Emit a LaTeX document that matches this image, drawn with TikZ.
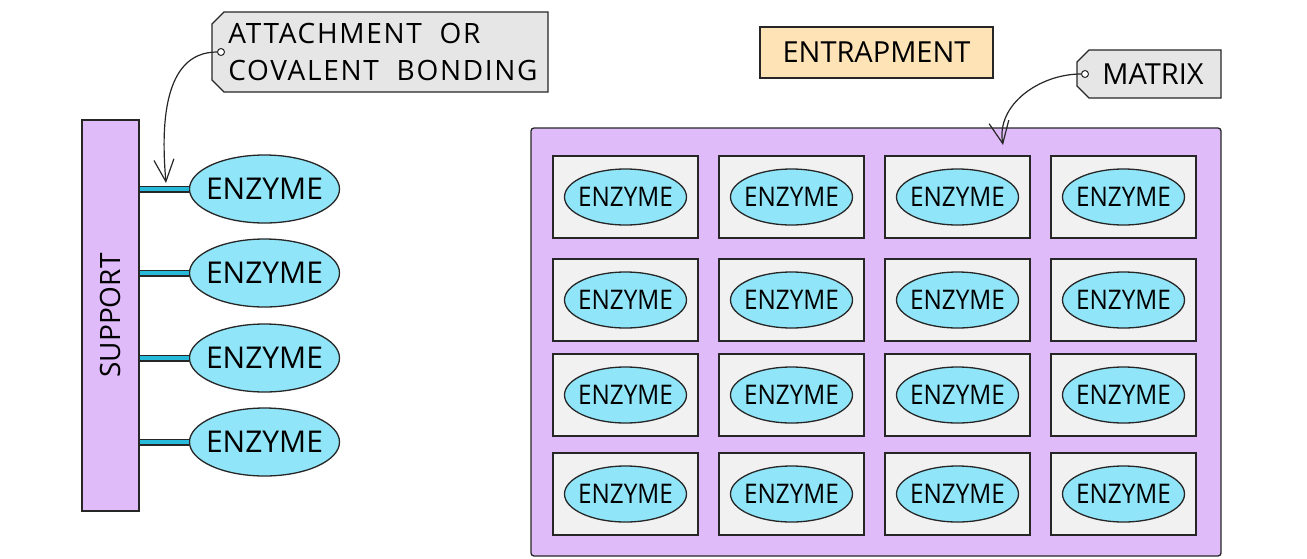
\documentclass[tikz,border=0pt]{standalone}
\usepackage{fontspec}
\setmainfont{Open Sans}
\newfontfamily\cellfont{Open Sans}[FakeStretch=0.9]
\newfontfamily\tagfont{Open Sans}[LetterSpace=6]
\usetikzlibrary{shapes.geometric,shapes.misc,arrows.meta,positioning}
\definecolor{supportpurple}{HTML}{E0BBFA}
\definecolor{enzymecyan}{HTML}{90E5F8}
\definecolor{linkcyan}{HTML}{27B9DA}
\definecolor{tagfill}{HTML}{E6E6E6}
\definecolor{cellfill}{HTML}{F1F1F1}
\definecolor{titlefill}{HTML}{FDE3B6}
\definecolor{inkline}{HTML}{262626}
\tikzstyle{enzyme}=[
  draw=inkline,ellipse,fill=enzymecyan,inner sep=0pt,line width=1.3pt,
  minimum width=150pt,minimum height=68pt,font=\fontsize{30}{36}\selectfont
]
\tikzstyle{cellenzyme}=[
  draw=inkline,ellipse,fill=enzymecyan,inner sep=0pt,line width=1.3pt,
  minimum width=122pt,minimum height=56pt,font=\cellfont\fontsize{27}{32}\selectfont
]
\tikzstyle{cell}=[
  draw=inkline,fill=cellfill,line width=1.2pt,minimum width=145pt,minimum height=82pt
]
\tikzstyle{purplebox}=[
  draw=inkline,fill=supportpurple,line width=1.3pt,inner sep=0pt
]
\tikzstyle{labeltag}=[
  draw=inkline,fill=tagfill,line width=1.3pt,chamfered rectangle,
  chamfered rectangle corners={north west,south west},
  chamfered rectangle xsep=6pt,chamfered rectangle ysep=6pt,inner sep=0pt
]
\tikzstyle{hole}=[
  draw=inkline,circle,fill=white,inner sep=0pt,minimum size=7pt,line width=1pt
]
\tikzstyle{pointer}=[
  line width=1.2pt,draw=inkline,-{Straight Barb[length=22pt,width=20pt]}
]
\tikzstyle{link}=[
  draw=inkline,line width=1.2pt,double=linkcyan,double distance=4.6pt
]
\newcommand{\enz}{\makebox[0pt]{ENZYME}}

\begin{document}
\begin{tikzpicture}[x=1pt,y=-1pt]
  \useasboundingbox (0,0) rectangle (1307,558);

  % immobilised on a support
  \node (support) at (110.5,315.5) [purplebox,rotate=90,minimum width=391pt,
    minimum height=57pt,font=\fontsize{28}{34}\selectfont] {SUPPORT};

  \node (enz1) at (264.5,189) [enzyme] {\enz};
  \node (enz2) at (264.5,273) [enzyme] {\enz};
  \node (enz3) at (264.5,358) [enzyme] {\enz};
  \node (enz4) at (264.5,442) [enzyme] {\enz};

  \foreach \i in {1,...,4}
    \draw [link] (support.south |- enz\i) -- (enz\i.west);

  \node (bonding) at (380,52) [labeltag,minimum width=336pt,minimum height=80pt,
    align=left,font=\tagfont\fontsize{28}{37}\selectfont]
    {\hspace{6pt}ATTACHMENT\ \ OR\\\hspace{6pt}COVALENT\ \ BONDING};
  \node (bondhole) at (221,52) [hole] {};
  \coordinate (bondtip) at (166,183);
  \draw [pointer] (bondhole.west) to[out=180,in=95] (bondtip);

  % entrapment in a matrix
  \node (title) at (876.5,52.5) [purplebox,fill=titlefill,minimum width=233pt,
    minimum height=51pt,font=\fontsize{29}{34}\selectfont] {ENTRAPMENT};

  \node (mtag) at (1149,74) [labeltag,minimum width=144pt,minimum height=48pt,
    font=\fontsize{29}{34}\selectfont] {\hspace{8pt}MATRIX};
  \node (mhole) at (1085,74) [hole] {};

  \node (matrix) at (876,342) [purplebox,rounded corners=3pt,minimum width=690pt,
    minimum height=428pt] {};
  \coordinate (mtip) at (1003,145);
  \draw [pointer] (mhole.west) to[out=180,in=100] (mtip);

  \foreach \r/\y in {1/197,2/300,3/395,4/494}
    \foreach \c in {1,...,4} {
      \node (cell\r\c) at (625.5+166*\c-166,\y) [cell] {};
      \node (cenz\r\c) at (cell\r\c) [cellenzyme] {\enz};
    }

\end{tikzpicture}
\end{document}
